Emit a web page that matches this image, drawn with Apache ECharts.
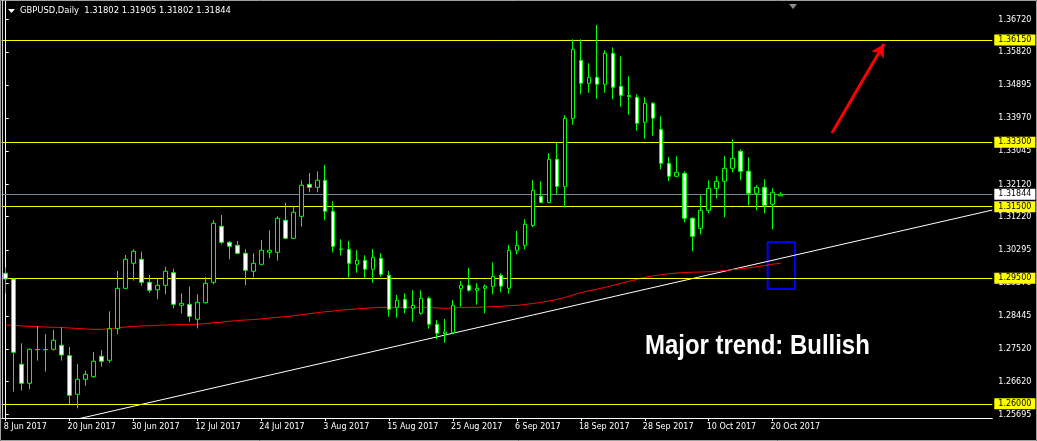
<!DOCTYPE html>
<html><head><meta charset="utf-8">
<script src="https://cdn.jsdelivr.net/npm/echarts@6/dist/echarts.min.js"></script>
<style>html,body{margin:0;padding:0;background:#000;}#c{width:1037px;height:441px;}</style>
</head><body><div id="c"></div>
<script>
const symbolName = 'GBPUSD,Daily';
const lastOHLC = '1.31802 1.31905 1.31802 1.31844';
const dates = [
'8 Jun 2017','9 Jun 2017','12 Jun 2017','13 Jun 2017','14 Jun 2017','15 Jun 2017','16 Jun 2017','19 Jun 2017','20 Jun 2017','21 Jun 2017','22 Jun 2017','23 Jun 2017','26 Jun 2017','27 Jun 2017','28 Jun 2017','29 Jun 2017','30 Jun 2017',
'3 Jul 2017','4 Jul 2017','5 Jul 2017','6 Jul 2017','7 Jul 2017','10 Jul 2017','11 Jul 2017','12 Jul 2017','13 Jul 2017','14 Jul 2017','17 Jul 2017','18 Jul 2017','19 Jul 2017','20 Jul 2017','21 Jul 2017','24 Jul 2017','25 Jul 2017','26 Jul 2017','27 Jul 2017','28 Jul 2017','31 Jul 2017',
'1 Aug 2017','2 Aug 2017','3 Aug 2017','4 Aug 2017','7 Aug 2017','8 Aug 2017','9 Aug 2017','10 Aug 2017','11 Aug 2017','14 Aug 2017','15 Aug 2017','16 Aug 2017','17 Aug 2017','18 Aug 2017','21 Aug 2017','22 Aug 2017','23 Aug 2017','24 Aug 2017','25 Aug 2017','28 Aug 2017','29 Aug 2017','30 Aug 2017','31 Aug 2017',
'1 Sep 2017','4 Sep 2017','5 Sep 2017','6 Sep 2017','7 Sep 2017','8 Sep 2017','11 Sep 2017','12 Sep 2017','13 Sep 2017','14 Sep 2017','15 Sep 2017','18 Sep 2017','19 Sep 2017','20 Sep 2017','21 Sep 2017','22 Sep 2017','25 Sep 2017','26 Sep 2017','27 Sep 2017','28 Sep 2017','29 Sep 2017',
'2 Oct 2017','3 Oct 2017','4 Oct 2017','5 Oct 2017','6 Oct 2017','9 Oct 2017','10 Oct 2017','11 Oct 2017','12 Oct 2017','13 Oct 2017','16 Oct 2017','17 Oct 2017','18 Oct 2017','19 Oct 2017','20 Oct 2017','23 Oct 2017'
];
const opens = [1.29641,1.29482,1.27102,1.26572,1.27515,1.27509,1.27521,1.27632,1.27342,1.26265,1.26684,1.26756,1.27325,1.27214,1.28095,1.29222,1.29920,
1.30032,1.29390,1.29183,1.29306,1.29658,1.28748,1.28776,1.28358,1.28821,1.29390,1.30952,1.30506,1.30422,1.30199,1.29697,1.29892,1.30227,1.30227,1.31120,1.30617,1.31231,
1.32124,1.32040,1.32236,1.31371,1.30319,1.30311,1.29892,1.30004,1.29753,1.30060,1.29585,1.28692,1.28916,1.28664,1.28525,1.28943,1.28218,1.27956,1.27984,1.29211,1.29306,1.29167,1.29222,
1.29278,1.29585,1.29222,1.30283,1.30422,1.30975,1.31789,1.31616,1.32822,1.32057,1.33965,1.35584,1.34942,1.35109,1.34914,1.35779,1.34858,1.34602,1.34551,1.33854,1.34384,
1.33659,1.32710,1.32347,1.32431,1.31175,1.30896,1.31399,1.32012,1.32208,1.32570,1.33045,1.32487,1.31873,1.32040,1.31566,1.31802];
const highs = [1.29808,1.29510,1.27688,1.27548,1.28171,1.27947,1.28059,1.28134,1.27585,1.27110,1.26924,1.27445,1.27501,1.28581,1.29705,1.30152,1.30311,
1.30244,1.29594,1.29482,1.29825,1.29769,1.29083,1.29267,1.29055,1.29529,1.31128,1.31268,1.30534,1.30542,1.30311,1.30199,1.30570,1.30841,1.31231,1.31611,1.31510,1.32236,
1.32439,1.32487,1.32663,1.31650,1.30590,1.30542,1.30291,1.30143,1.30319,1.30199,1.29705,1.29036,1.29083,1.29175,1.29167,1.28988,1.28338,1.28366,1.28896,1.29426,1.29789,1.29362,1.29334,
1.29948,1.29641,1.30431,1.30821,1.31148,1.32238,1.32211,1.32992,1.33285,1.34049,1.36170,1.36170,1.35500,1.36569,1.35863,1.35946,1.35695,1.35137,1.34635,1.34551,1.34412,
1.34021,1.32886,1.32905,1.32487,1.31203,1.31817,1.32236,1.32347,1.32914,1.33380,1.33101,1.32877,1.32096,1.32264,1.32012,1.31905];
const lows = [1.29083,1.26338,1.26366,1.26405,1.27203,1.26896,1.27482,1.27203,1.25994,1.25874,1.26505,1.26728,1.27035,1.27147,1.27939,1.29210,1.29435,
1.29295,1.29100,1.28916,1.29055,1.28664,1.28525,1.28291,1.28106,1.28793,1.29334,1.30450,1.30032,1.30171,1.29306,1.29529,1.29864,1.30060,1.29993,1.30589,1.30600,1.30941,
1.31901,1.31901,1.31120,1.30221,1.30138,1.29518,1.29658,1.29501,1.29379,1.29546,1.28430,1.28402,1.28525,1.28291,1.28486,1.28095,1.27800,1.27705,1.27939,1.28709,1.29128,1.28765,1.28525,
1.29055,1.29111,1.29072,1.30171,1.30311,1.30924,1.31594,1.31594,1.31845,1.31482,1.33787,1.34635,1.34680,1.34512,1.34680,1.34496,1.34289,1.34066,1.33620,1.33396,1.33480,
1.32543,1.32208,1.32319,1.31064,1.30255,1.30729,1.31315,1.31733,1.31203,1.32459,1.32236,1.31538,1.31399,1.31315,1.30869,1.31802];
const closes = [1.29482,1.27437,1.26572,1.27521,1.27510,1.27515,1.27772,1.27362,1.26237,1.26684,1.26823,1.27186,1.27186,1.28095,1.29222,1.30032,1.30255,
1.29390,1.29167,1.29306,1.29697,1.28776,1.28804,1.28441,1.28832,1.29362,1.31036,1.30506,1.30394,1.30199,1.29725,1.29920,1.30283,1.30283,1.31175,1.30617,1.31343,1.32096,
1.32040,1.32236,1.31371,1.30389,1.30311,1.29920,1.30004,1.29753,1.30087,1.29613,1.28637,1.28888,1.28664,1.28748,1.28943,1.28218,1.27967,1.28003,1.28748,1.29306,1.29167,1.29222,1.29278,
1.29557,1.29278,1.30283,1.30422,1.31008,1.31957,1.31616,1.32822,1.32063,1.33965,1.35891,1.34942,1.35109,1.34914,1.35779,1.34830,1.34607,1.34574,1.33826,1.34384,1.33965,
1.32710,1.32347,1.32459,1.31175,1.30673,1.31399,1.32012,1.32208,1.32570,1.32849,1.32487,1.31873,1.32040,1.31538,1.31901,1.31844];
const movingAverage = [1.28199,1.28185,1.28171,1.28162,1.28151,1.28143,1.28135,1.28129,1.28115,1.28101,1.28087,1.28079,1.28079,1.28095,1.28115,1.28143,1.28157,
1.28171,1.28179,1.28190,1.28199,1.28204,1.28210,1.28215,1.28218,1.28240,1.28260,1.28274,1.28302,1.28321,1.28338,1.28352,1.28366,1.28394,1.28413,1.28430,1.28455,1.28483,
1.28514,1.28541,1.28569,1.28589,1.28617,1.28631,1.28650,1.28664,1.28681,1.28692,1.28692,1.28692,1.28692,1.28692,1.28692,1.28687,1.28673,1.28664,1.28673,1.28687,1.28692,1.28692,1.28701,
1.28709,1.28720,1.28737,1.28748,1.28770,1.28798,1.28832,1.28868,1.28910,1.28966,1.29036,1.29100,1.29153,1.29199,1.29249,1.29301,1.29362,1.29415,1.29474,1.29527,1.29566,
1.29605,1.29627,1.29649,1.29663,1.29672,1.29677,1.29686,1.29697,1.29719,1.29741,1.29766,1.29794,1.29825,1.29859,1.29895,1.29920];
const levelPrices = [1.36150, 1.33300, 1.31500, 1.29500, 1.26000];
const bidPrice = 1.31844;
const priceTicks = [1.36720,1.35820,1.34895,1.33970,1.33045,1.32120,1.31220,1.30295,1.29370,1.28445,1.27520,1.26620,1.25695];
const dateTicks = ['8 Jun 2017','20 Jun 2017','30 Jun 2017','12 Jul 2017','24 Jul 2017','3 Aug 2017','15 Aug 2017','25 Aug 2017','6 Sep 2017','18 Sep 2017','28 Sep 2017','10 Oct 2017','20 Oct 2017'];
const trendLinePoints = [[8, 1.25526], [123.5, 1.31405]];
const boxCorners = [[95.38, 1.30506], [98.8, 1.29203]];
const arrowPoints = [[103.43, 1.33555], [109.94, 1.36038]];
const noteText = 'Major trend: Bullish';

const SLOTS = 124;
const cats = dates.concat(new Array(SLOTS - dates.length).fill(''));
const candles = dates.map((d, i) => [opens[i], closes[i], lows[i], highs[i]]);
const FONT = 'DejaVu Sans';
const showTick = (i, v) => dateTicks.indexOf(v) >= 0;

const chart = echarts.init(document.getElementById('c'), null, {renderer: 'canvas'});
chart.setOption({
  animation: false,
  backgroundColor: '#000000',
  grid: {left: 1.7, top: 0, width: 990.6, height: 418, containLabel: false},
  xAxis: [{
    type: 'category', data: cats, boundaryGap: true,
    axisLine: {show: true, lineStyle: {color: '#ffffff', width: 1}},
    axisTick: {show: true, interval: showTick, alignWithLabel: true, length: 3, lineStyle: {color: '#ffffff'}},
    axisLabel: {show: true, interval: showTick, color: '#ffffff', fontFamily: FONT, fontSize: 8, align: 'left', margin: 5, padding: [0,0,0,-2]},
    splitLine: {show: false}
  }, {
    type: 'value', min: -0.5, max: SLOTS - 0.5, show: false, gridIndex: 0
  }],
  yAxis: [{
    type: 'value', position: 'right', min: 1.25604, max: 1.37266, scale: true,
    axisLine: {show: true, lineStyle: {color: '#ffffff', width: 1}},
    axisTick: {show: true, customValues: priceTicks, length: 3, lineStyle: {color: '#ffffff'}},
    axisLabel: {show: true, customValues: priceTicks, color: '#ffffff', fontFamily: FONT, fontSize: 8, margin: 6,
      formatter: v => v.toFixed(5)},
    splitLine: {show: false}
  }],
  series: [
    {
      type: 'candlestick', xAxisIndex: 0, yAxisIndex: 0, data: candles, barWidth: 4,
      itemStyle: {color: '#000000', color0: '#ffffff', borderColor: '#00ff00', borderColor0: '#00ff00', borderWidth: 1},
      z: 5
    },
    {
      type: 'line', xAxisIndex: 0, yAxisIndex: 0, data: movingAverage, symbol: 'none',
      lineStyle: {color: '#ff0000', width: 1}, z: 4, silent: true
    },
    {
      type: 'line', xAxisIndex: 1, yAxisIndex: 0, data: trendLinePoints, symbol: 'none',
      lineStyle: {color: '#ffffff', width: 1}, z: 3, silent: true, clip: true,
      markArea: {
        silent: true,
        itemStyle: {color: 'rgba(0,0,0,0)', borderColor: '#0000ff', borderWidth: 2},
        data: [[{coord: boxCorners[0]}, {coord: boxCorners[1]}]]
      },
      markLine: {
        silent: true, symbol: ['none', 'arrow'], symbolSize: [11, 13],
        lineStyle: {color: '#ff0000', width: 3, type: 'solid'},
        label: {show: false},
        data: [[{coord: arrowPoints[0]}, {coord: arrowPoints[1]}]]
      }
    },
    {
      type: 'line', xAxisIndex: 1, yAxisIndex: 0, data: [], symbol: 'none', z: 2, silent: true,
      markLine: {
        silent: true, symbol: ['none', 'none'], precision: 5,
        data: levelPrices.map(v => ({
          yAxis: v,
          lineStyle: {color: '#ffff00', width: 1, type: 'solid'},
          label: {show: true, position: 'end', distance: 2, formatter: v.toFixed(5), color: '#000000',
            backgroundColor: '#ffff00', padding: [2, 4, 1, 4], fontFamily: FONT, fontSize: 8}
        })).concat([{
          yAxis: bidPrice,
          lineStyle: {color: '#778899', width: 1, type: 'solid'},
          label: {show: true, position: 'end', distance: 2, formatter: bidPrice.toFixed(5), color: '#000000',
            backgroundColor: '#ffffff', padding: [2, 4, 1, 4], fontFamily: FONT, fontSize: 8}
        }])
      }
    }
  ],
  graphic: [
    {type: 'rect', shape: {x: 0.5, y: 0.5, width: 1036, height: 440}, style: {fill: 'none', stroke: '#a0a0a0', lineWidth: 1}, silent: true, z: 100},
    {type: 'line', shape: {x1: 2.5, y1: 0, x2: 2.5, y2: 418}, style: {stroke: '#c8c8c8', lineWidth: 1}, silent: true, z: 100},
    {type: 'polygon', shape: {points: [[8, 9], [15, 9], [11.5, 13]]}, style: {fill: '#ffffff'}, silent: true, z: 100},
    {type: 'text', x: 20, y: 11, style: {text: symbolName + '  ' + lastOHLC, fill: '#ffffff', font: '8.4px "DejaVu Sans"', textVerticalAlign: 'middle'}, silent: true, z: 100},
    {type: 'polygon', shape: {points: [[789, 4], [797, 4], [793, 9]]}, style: {fill: '#8c8c8c'}, silent: true, z: 100},
    {type: 'text', x: 645, y: 346, scaleX: 0.855, style: {text: noteText, fill: '#ffffff', font: 'bold 28px "Liberation Sans", Arial, sans-serif', textVerticalAlign: 'middle'}, silent: true, z: 100}
  ]
});
</script></body></html>
